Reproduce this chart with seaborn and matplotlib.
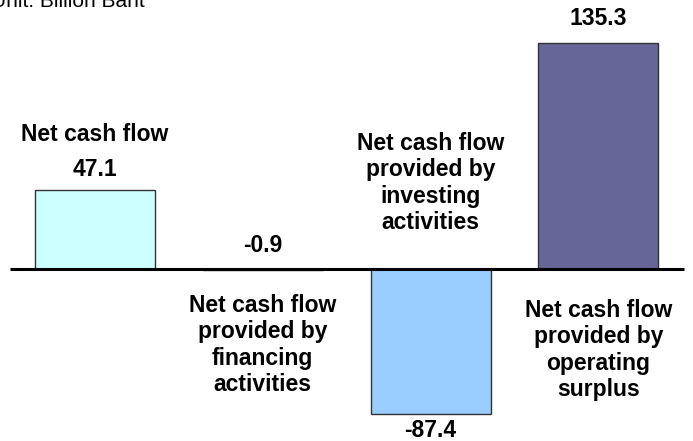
import matplotlib
matplotlib.use("Agg")
import matplotlib.pyplot as plt
import seaborn as sns
import pandas as pd

sns.set_theme(style="white")
plt.rcParams['font.family'] = ['Liberation Sans', 'DejaVu Sans']

# values in billion baht
items = ["Net cash flow", "Financing", "Investing", "Operating"]
values = [47.1, -0.9, -87.4, 135.3]
value_labels = ["47.1", "-0.9", "-87.4", "135.3"]
names = ["Net cash flow",
         "Net cash flow\nprovided by\nfinancing\nactivities",
         "Net cash flow\nprovided by\ninvesting\nactivities",
         "Net cash flow\nprovided by\noperating\nsurplus"]
colors = ["#CCFFFF", "#FFFFFF", "#99CCFF", "#666699"]

df = pd.DataFrame({"item": items, "value": values})

fig = plt.figure(figsize=(6.93, 4.41), dpi=100)
ax = fig.add_axes([0, 0, 1, 1])

sns.barplot(data=df, x="item", y="value", hue="item", palette=colors,
            saturation=1, legend=False, width=0.715, edgecolor="#333333",
            linewidth=1, ax=ax, zorder=2)

# baseline
ax.plot([-0.507, 3.51], [0, 0], color="black", lw=2.2, zorder=3,
        solid_capstyle="butt")

ax.set_xlim(-0.566, 3.564)
ax.set_ylim(-103.3, 160.8)
ax.axis("off")

fs = 16.5
# value labels
val_y = [59, 14, -97.2, 150]
for i, (lab, y) in enumerate(zip(value_labels, val_y)):
    ax.text(i, y, lab, ha="center", va="center", fontsize=fs,
            fontweight="bold", color="black")

# category labels
name_y = [80, -45.8, 51.2, -48.8]
for i, (nm, y) in enumerate(zip(names, name_y)):
    ax.text(i, y, nm, ha="center", va="center", fontsize=fs,
            fontweight="bold", color="black", linespacing=1.17,
            multialignment="center")

fig.text(-9 / 693, 1 - 7 / 441, "Unit: Billion Baht", ha="left",
         va="baseline", fontsize=15, color="black")

fig.savefig("out.png", dpi=100)
